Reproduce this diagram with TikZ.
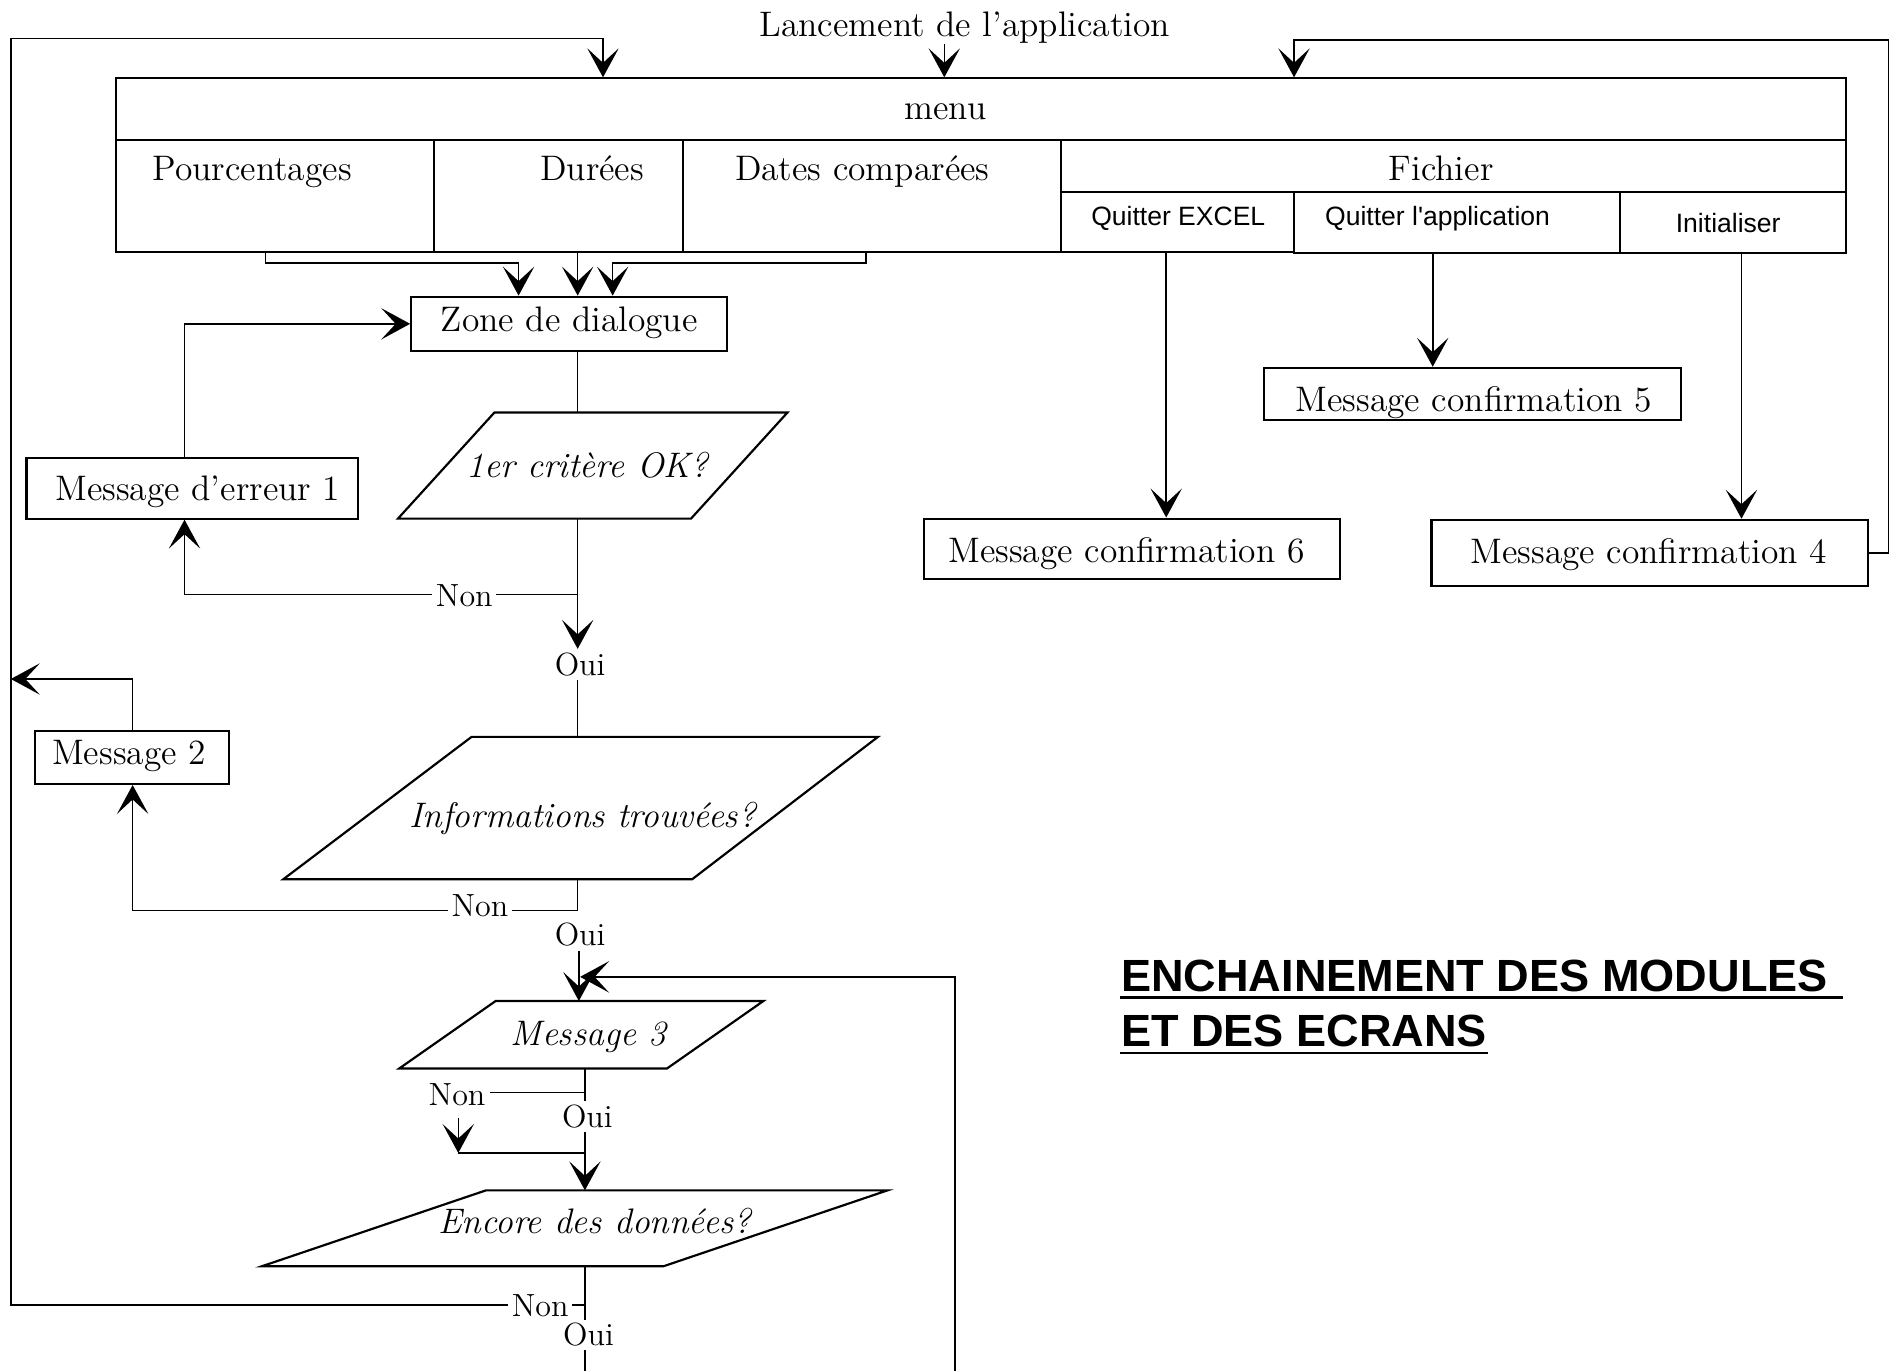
\documentclass[tikz,border=0pt]{standalone}
\usepackage{fontspec}
\newfontfamily\hsans{Liberation Sans}
\usetikzlibrary{arrows.meta}
\newcommand\serf{\fontsize{14.7pt}{17pt}\selectfont}
\newcommand\snsf{\hsans\fontsize{11pt}{13pt}\selectfont}
\newcommand\lblf{\fontsize{13.3pt}{15pt}\selectfont}
\newcommand\ttlf{\hsans\bfseries\fontsize{18.7pt}{22pt}\selectfont}
\newcommand\mkbox[6]{%
 \pgfmathsetmacro\mkw{(#4-#2)*0.5}%
 \pgfmathsetmacro\mkh{(#5-#3)*0.5}%
 \node[#6,minimum width=\mkw pt,minimum height=\mkh pt] (#1) at ({(#2+#4)/2},{(#3+#5)/2}) {};}
\begin{document}
\begin{tikzpicture}[x=0.5pt,y=-0.5pt,
 line width=0.65pt,
 box/.style={draw,line width=0.9pt,inner sep=0pt},
 cell/.style={draw,line width=0.9pt,inner sep=0pt},
 txt/.style={inner sep=0pt,font=\serf,anchor=base},
 itx/.style={inner sep=0pt,font=\serf\itshape,anchor=base},
 sns/.style={inner sep=0pt,font=\snsf,anchor=base},
 lbl/.style={fill=white,inner sep=1.5pt,font=\lblf,anchor=base},
 ttl/.style={inner sep=0pt,font=\ttlf,anchor=base west},
 arr/.style={-{Stealth[length=12pt,width=13pt,inset=6pt]}},
 para/.style={line width=0.9pt,line join=miter}]
\useasboundingbox (0,0) rectangle (1568,1137);

% ---- menu
\mkbox{menu}{96}{65}{1531}{116}{cell}
\mkbox{pour}{96}{116}{360}{209}{cell}
\mkbox{dur}{360}{116}{566}{209}{cell}
\mkbox{dates}{566}{116}{880}{209}{cell}
\mkbox{fich}{880}{116}{1531}{159}{cell}
\mkbox{qexcel}{880}{159}{1073}{209}{cell}
\mkbox{qapp}{1073}{159}{1343}{210}{cell}
\mkbox{init}{1343}{159}{1531}{210}{cell}
\node[txt] (tmenu) at (784,99) {menu};
\node[txt] (tpour) at (209,150) {Pourcentages};
\node[txt] (tdur) at (491,150) {Durées};
\node[txt] (tdates) at (715,150) {Dates comparées};
\node[txt] (tfich) at (1195,150) {Fichier};
\node[sns] (tqe) at (977,187) {Quitter EXCEL};
\node[sns] (tqa) at (1192,187) {Quitter l'application};
\node[sns] (tin) at (1433,193) {Initialiser};
\node[txt] (lanc) at (800,30) {Lancement de l'application};

% ---- boxes
\mkbox{zone}{341}{246}{603}{291}{box}
\node[txt] (tzone) at (472,275) {Zone de dialogue};
\mkbox{err}{22}{380}{297}{430}{box}
\node[txt] (terr) at (164,415) {Message d'erreur 1};
\mkbox{msgtwo}{29}{606}{190}{650}{box}
\node[txt] (tmsgtwo) at (107,634) {Message 2};
\mkbox{mcfive}{1048}{305}{1394}{348}{box}
\node[txt] (tmcfive) at (1222,341) {Message confirmation 5};
\mkbox{mcsix}{766}{430}{1111}{480}{box}
\node[txt] (tmcsix) at (934,466) {Message confirmation 6};
\mkbox{mcfour}{1187}{431}{1549}{486}{box}
\node[txt] (tmcfour) at (1367,467) {Message confirmation 4};

% ---- parallelograms
\draw[para] (410,342) -- (653,342) -- (573,430) -- (330,430) -- cycle;
\node[itx] (crit) at (487,396) {1er critère OK?};
\coordinate (pa-t) at (479,342); \coordinate (pa-b) at (479,430);
\draw[para] (391,611) -- (728,611) -- (574,729) -- (235,729) -- cycle;
\node[itx] (info) at (483,686) {Informations trouvées?};
\coordinate (pb-t) at (479,611); \coordinate (pb-b) at (479,729);
\draw[para] (411,830) -- (633,830) -- (553,886) -- (331,886) -- cycle;
\node[itx] (msgthree) at (488,867) {Message 3};
\coordinate (pc-t) at (480,830); \coordinate (pc-b) at (485,886);
\draw[para] (403,987) -- (736,987) -- (550,1050) -- (217,1050) -- cycle;
\node[itx] (encore) at (493,1023) {Encore des données?};
\coordinate (pd-t) at (485,987); \coordinate (pd-b) at (485,1050);

% ---- helper coordinates
\coordinate (ax) at (783,0);
\coordinate (lcorner) at (9,32);
\coordinate (ltop) at (500,0);
\coordinate (rcorner) at (1566,33);
\coordinate (rx) at (1073,0);
\coordinate (c1) at (220,218);
\coordinate (c3) at (718,218);
\coordinate (zin1) at (430,0);
\coordinate (zin2) at (479,0);
\coordinate (zin3) at (508,0);
\coordinate (ex) at (153,0);
\coordinate (mx) at (110,0);
\coordinate (m2tip) at (9,563);
\coordinate (j1) at (479,493);
\coordinate (oui1tip) at (479,538);
\coordinate (j2) at (479,755);
\coordinate (rl) at (481,810);
\coordinate (bot2) at (792,1137);
\coordinate (j3) at (485,906);
\coordinate (a3s) at (380,927);
\coordinate (j3b) at (380,956);
\coordinate (j4) at (485,1082);
\coordinate (bot1) at (485,1137);
\coordinate (qex) at (967,0);
\coordinate (qax) at (1188,0);
\coordinate (inx) at (1444,0);

% ---- connectors top
\draw[arr] (lanc.south -| ax) -- (menu.north -| ax);
\draw[arr] (j4) -| (lcorner) -| (menu.north -| ltop);
\draw[arr] (mcfour.east) -| (rcorner) -| (menu.north -| rx);
\draw[arr] (pour.south -| c1) |- (c1 -| zin1) -- (zone.north -| zin1);
\draw[arr] (dur.south -| zin2) -- (zone.north -| zin2);
\draw[arr] (dates.south -| c3) |- (c3 -| zin3) -- (zone.north -| zin3);
\draw[arr] (qexcel.south -| qex) -- (mcsix.north -| qex);
\draw[arr] (qapp.south -| qax) -- (mcfive.north -| qax);
\draw[arr] (init.south -| inx) -- (mcfour.north -| inx);

% ---- main flow
\draw (zone.south -| pa-t) -- (pa-t);
\draw[arr] (pa-b) -- (oui1tip);
\draw[arr] (j1) -| (err.south -| ex);
\draw[arr] (err.north -| ex) |- (zone.west);
\node[lbl] (non1) at (385,503) {Non};
\node[lbl] (oui1) at (481,560) {Oui};
\draw (oui1.south -| pb-t) -- (pb-t);

\draw (pb-b) -- (j2);
\draw[arr] (j2) -| (msgtwo.south -| mx);
\draw[arr] (msgtwo.north -| mx) |- (m2tip);
\node[lbl] (non2) at (398,760) {Non};
\node[lbl] (oui2) at (481,784) {Oui};
\draw[arr] (oui2.south -| pc-t) -- (pc-t);
\draw[arr] (bot2) |- (rl);

\draw[arr] (pc-b) -- (pd-t);
\node[lbl] (non3) at (379,917) {Non};
\draw (j3) -- (non3.east |- j3);
\draw[arr] (a3s) -- (j3b);
\draw (j3b) -- (j3b -| pd-t);
\node[lbl] (oui3) at (487,935) {Oui};

\draw (pd-b) -- (bot1);
\node[lbl] (non4) at (448,1092) {Non};
\node[lbl] (oui4) at (488,1116) {Oui};

% ---- title
\node[ttl] (t1) at (929,822) {ENCHAINEMENT DES MODULES};
\node[ttl] (t2) at (929,868) {ET DES ECRANS};
\coordinate (u1) at ([yshift=-2.5pt]t1.base west);
\coordinate (u1e) at (1528,0);
\draw[line width=1.1pt] (u1) -- (u1 -| u1e);
\coordinate (u2) at ([yshift=-2.5pt]t2.base west);
\draw[line width=1.1pt] (u2) -- (u2 -| t2.base east);
\end{tikzpicture}
\end{document}
